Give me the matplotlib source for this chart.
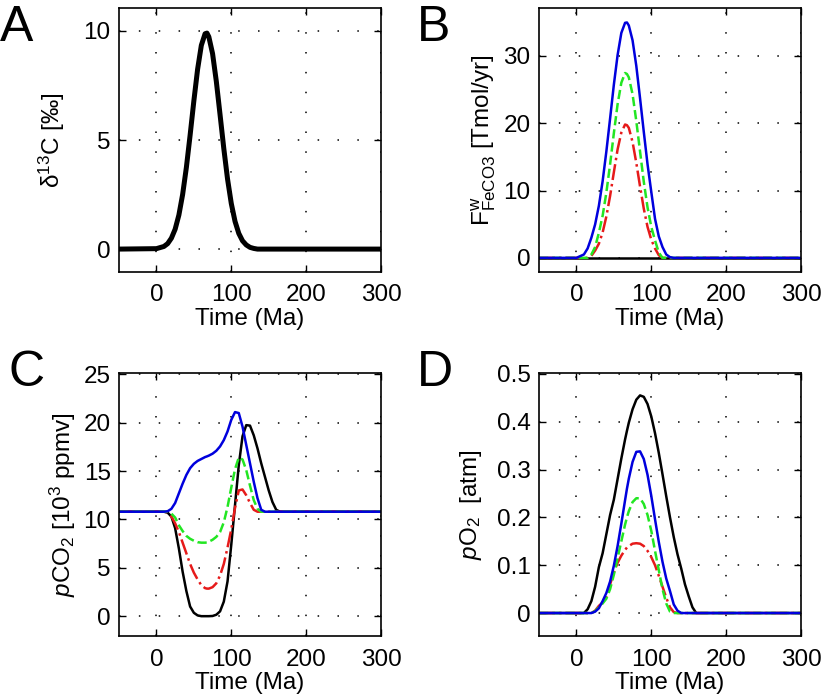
import matplotlib
matplotlib.use("Agg")
import matplotlib.pyplot as plt

plt.rcParams["font.family"] = ["Liberation Sans", "DejaVu Sans"]
plt.rcParams["mathtext.fontset"] = "custom"
plt.rcParams["mathtext.rm"] = "Liberation Sans"
plt.rcParams["mathtext.it"] = "Liberation Sans:italic"

# time axis (Ma)
t = [-50, 0, 10, 15, 20, 25, 30, 35, 40, 45, 50, 55, 60, 65, 67.5, 70, 75, 80, 85, 90,
     95, 100, 105, 110, 115, 120, 125, 130, 135, 140, 145, 150, 155, 160, 165, 170, 300]

# A: delta13C forcing
d13c = [0, 0.02, 0.12, 0.25, 0.50, 0.91, 1.56, 2.50, 3.74, 5.22, 6.79, 8.24, 9.34, 9.87,
        9.9, 9.73, 8.96, 7.69, 6.16, 4.61, 3.21, 2.09, 1.27, 0.72, 0.38, 0.19, 0.08, 0.03,
        0, 0, 0, 0, 0, 0, 0, 0, 0]

# B: siderite weathering flux (Tmol/yr)
fw_black = [0] * len(t)
fw_red = [0, 0, 0, 0, 0.3, 1.08, 2.1, 3.76, 6.15, 9.2, 12.7, 16.1, 18.6, 19.8, 19.7, 19.3,
          17.2, 14.1, 10.6, 7.3, 4.6, 2.7, 1.4, 0.4, 0, 0, 0, 0, 0, 0, 0, 0, 0, 0, 0, 0, 0]
fw_green = [0, 0, 0, 0, 0.5, 1.6, 3.72, 6.24, 9.69, 13.9, 18.5, 22.8, 26.0, 27.45, 27.3, 26.8,
            24.3, 20.3, 15.8, 11.3, 7.5, 4.6, 2.6, 0.8, 0, 0, 0, 0, 0, 0, 0, 0, 0, 0, 0, 0, 0]
fw_blue = [0, 0, 0.5, 1.4, 3.0, 4.97, 7.73, 11.37, 15.8, 20.7, 25.7, 30.1, 33.4, 34.9, 34.95,
           34.5, 32.3, 28.5, 23.7, 18.7, 13.9, 9.8, 5.8, 3.2, 1.6, 0.5, 0.1, 0,
           0, 0, 0, 0, 0, 0, 0, 0, 0]

# C: pCO2 (10^3 ppmv)
co2_black = [10.8, 10.8, 10.8, 10.7, 10.3, 9.1, 7.0, 4.6, 2.6, 1.0, 0.35, 0.08, 0.0, 0.0, 0.0,
             0.0, 0.02, 0.15, 0.5, 1.5, 3.6, 7.4, 11.5, 15.6, 18.6, 19.75, 19.7, 18.7,
             17.35, 15.8, 14.4, 13.0, 11.8, 11.0, 10.8, 10.8, 10.8]
co2_red = [10.8, 10.8, 10.8, 10.75, 10.3, 9.6, 8.7, 7.6, 6.5, 5.4, 4.5, 3.8, 3.2, 2.9, 2.85,
           2.85, 3.0, 3.4, 4.2, 5.4, 7.1, 9.0, 11.2, 13.0, 13.1, 12.5, 11.7, 11.0, 10.8,
           10.8, 10.8, 10.8, 10.8, 10.8, 10.8, 10.8, 10.8]
co2_green = [10.8, 10.8, 10.8, 10.8, 10.6, 10.2, 9.4, 8.8, 8.3, 8.0, 7.8, 7.65, 7.6, 7.6, 7.62,
             7.7, 7.9, 8.2, 8.7, 9.7, 11.3, 13.3, 15.2, 16.4, 16.2, 15.1, 13.5, 12.0,
             11.1, 10.8, 10.8, 10.8, 10.8, 10.8, 10.8, 10.8, 10.8]
co2_blue = [10.8, 10.8, 10.8, 10.85, 11.1, 11.7, 12.7, 13.7, 14.6, 15.3, 15.75, 16.05,
            16.25, 16.45, 16.52, 16.6, 16.8, 17.1, 17.55, 18.2, 19.1, 20.3, 21.1, 21.0, 19.6,
            17.7, 15.8, 13.9, 12.2, 11.0, 10.8, 10.8, 10.8, 10.8, 10.8, 10.8, 10.8]

# D: pO2 (atm)
o2_black = [0, 0, 0, 0.008, 0.025, 0.055, 0.096, 0.125, 0.165, 0.205, 0.237, 0.28, 0.323,
            0.363, 0.381, 0.398, 0.426, 0.446, 0.455, 0.452, 0.437, 0.411, 0.376, 0.335, 0.29,
            0.244, 0.2, 0.159, 0.123, 0.093, 0.06, 0.035, 0.012, 0, 0, 0, 0]
o2_red = [0, 0, 0, 0, 0, 0.005, 0.015, 0.022, 0.035, 0.06, 0.085, 0.105, 0.12, 0.132, 0.137,
          0.14, 0.145, 0.146, 0.145, 0.14, 0.13, 0.117, 0.1, 0.078, 0.055, 0.032, 0.012,
          0.002, 0, 0, 0, 0, 0, 0, 0, 0, 0]
o2_green = [0, 0, 0, 0, 0, 0.004, 0.012, 0.02, 0.03, 0.05, 0.08, 0.115, 0.15, 0.185, 0.2,
            0.213, 0.232, 0.24, 0.24, 0.228, 0.205, 0.172, 0.13, 0.09, 0.05, 0.02, 0.003,
            0, 0, 0, 0, 0, 0, 0, 0, 0, 0]
o2_blue = [0, 0, 0, 0, 0, 0.003, 0.01, 0.025, 0.042, 0.066, 0.099, 0.14, 0.187, 0.236, 0.26,
           0.281, 0.316, 0.337, 0.338, 0.322, 0.289, 0.245, 0.196, 0.149, 0.107, 0.072,
           0.046, 0.018, 0.005, 0, 0, 0, 0, 0, 0, 0, 0]

BLUE = "#0000dd"
GREEN = "#22e622"
RED = "#e61a1a"
FS = 17.5

fig = plt.figure(figsize=(8.24, 6.96), dpi=100)
w, h = 0.318, 0.378
axA = fig.add_axes([0.1444, 0.6092, w, 0.3793])
axB = fig.add_axes([0.6541, 0.6092, w, 0.3793])
axC = fig.add_axes([0.1444, 0.0862, w, h])
axD = fig.add_axes([0.6541, 0.0862, w, h])


def style(ax, yticks, ylim):
    ax.set_xlim(-50, 300)
    ax.set_ylim(*ylim)
    ax.set_xticks([0, 100, 200, 300])
    ax.set_yticks(yticks)
    ax.grid(True, color="black", linestyle=(0, (1, 12)), linewidth=1.1)
    ax.set_axisbelow(True)
    ax.tick_params(direction="in", top=True, right=True, length=5, width=1.0,
                   labelsize=FS, pad=6)
    ax.tick_params(axis="x", pad=9)
    for s in ax.spines.values():
        s.set_linewidth(1.2)
    ax.set_xlabel("Time (Ma)", fontsize=FS, labelpad=1)


axA.plot(t, d13c, color="black", lw=3.6)
style(axA, [0, 5, 10], (-1.05, 11.05))
axA.set_ylabel("δ$^{13}$C [‰]", fontsize=FS, labelpad=12)

axB.plot(t, fw_black, color="black", lw=1.8)
axB.plot(t, fw_red, color=RED, lw=1.8, linestyle="-.")
axB.plot(t, fw_green, color=GREEN, lw=1.8, linestyle="--")
axB.plot(t, fw_blue, color=BLUE, lw=1.8)
style(axB, [0, 10, 20, 30], (-2.1, 37.1))
axB.set_ylabel(r"F$^{\rm w}_{\rm FeCO3}$ [Tmol/yr]", fontsize=FS, labelpad=4)

axC.plot(t, co2_black, color="black", lw=1.8)
axC.plot(t, co2_red, color=RED, lw=1.8, linestyle="-.")
axC.plot(t, co2_green, color=GREEN, lw=1.8, linestyle="--")
axC.plot(t, co2_blue, color=BLUE, lw=1.8)
style(axC, [0, 5, 10, 15, 20, 25], (-2.05, 25.15))
axC.set_ylabel(r"$p$CO$_2$ [10$^3$ ppmv]", fontsize=FS, labelpad=4)

axD.plot(t, o2_black, color="black", lw=1.8)
axD.plot(t, o2_red, color=RED, lw=1.8, linestyle="-.")
axD.plot(t, o2_green, color=GREEN, lw=1.8, linestyle="--")
axD.plot(t, o2_blue, color=BLUE, lw=1.8)
style(axD, [0, 0.1, 0.2, 0.3, 0.4, 0.5], (-0.048, 0.502))
axD.set_yticklabels(["0", "0.1", "0.2", "0.3", "0.4", "0.5"])
axD.set_ylabel(r"$p$O$_2$  [atm]", fontsize=FS, labelpad=9)

for lab, x, y in [("A", 0.0, 0.993), ("B", 0.506, 0.993), ("C", 0.01, 0.497), ("D", 0.506, 0.497)]:
    fig.text(x, y, lab, fontsize=36, va="top", ha="left")

fig.savefig("out.png", dpi=100)
